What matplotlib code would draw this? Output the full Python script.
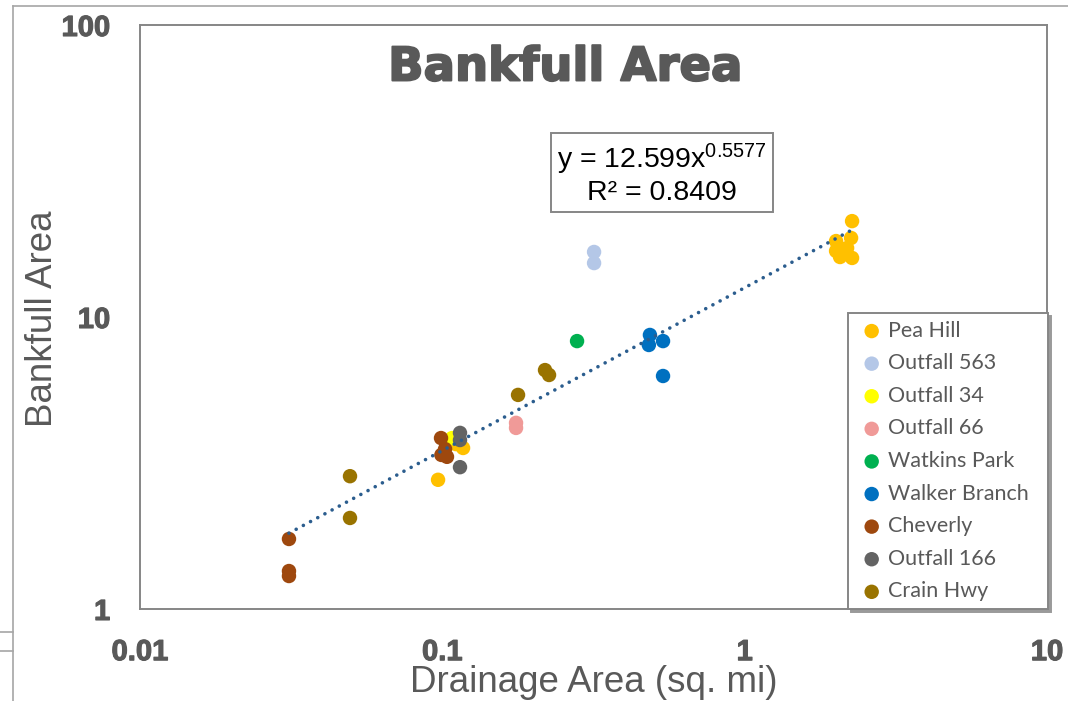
import matplotlib
matplotlib.use("Agg")
import matplotlib.pyplot as plt
import matplotlib.patheffects as pe
from matplotlib.lines import Line2D
from matplotlib.ticker import NullLocator
import numpy as np

# drainage area (sq. mi) and bankfull area per site
pea_hill_x = [2.266, 2.249, 2.006, 2.006, 2.182, 2.068, 2.266, 0.1171, 0.1110, 0.0968]
pea_hill_y = [21.3, 18.65, 18.2, 16.83, 17.23, 16.05, 15.93, 3.56, 3.67, 2.77]
outfall563_x = [0.3176, 0.3176]
outfall563_y = [16.7, 15.3]
outfall34_x = [0.1077]
outfall34_y = [3.85]
outfall66_x = [0.1753, 0.1753]
outfall66_y = [4.34, 4.17]
watkins_x = [0.279]
watkins_y = [8.27]
walker_x = [0.486, 0.482, 0.537, 0.537]
walker_y = [8.68, 8.02, 8.27, 6.28]
cheverly_x = [0.0311, 0.0311, 0.0311, 0.099, 0.1021, 0.1036, 0.0993]
cheverly_y = [1.737, 1.349, 1.297, 3.85, 3.53, 3.32, 3.37]
outfall166_x = [0.1144, 0.1144, 0.1144]
outfall166_y = [4.01, 3.79, 3.06]
crain_x = [0.2186, 0.2254, 0.178, 0.0495, 0.0495]
crain_y = [6.58, 6.33, 5.41, 2.85, 2.05]

sites = [
    ("Pea Hill", pea_hill_x, pea_hill_y, "#FFC000"),
    ("Outfall 563", outfall563_x, outfall563_y, "#B4C7E7"),
    ("Outfall 34", outfall34_x, outfall34_y, "#FFFF00"),
    ("Outfall 66", outfall66_x, outfall66_y, "#F09A98"),
    ("Watkins Park", watkins_x, watkins_y, "#00B050"),
    ("Walker Branch", walker_x, walker_y, "#0070C0"),
    ("Cheverly", cheverly_x, cheverly_y, "#9E480E"),
    ("Outfall 166", outfall166_x, outfall166_y, "#636363"),
    ("Crain Hwy", crain_x, crain_y, "#997300"),
]

# power-law trendline
coef, expo, r2 = 12.599, 0.5577, 0.8409

x_ticks = [0.01, 0.1, 1, 10]
x_tick_labels = ["0.01", "0.1", "1", "10"]
y_ticks = [1, 10, 100]
y_tick_labels = ["1", "10", "100"]

GRAY = "#595959"
EDGE = "#868686"

plt.rcParams["mathtext.fontset"] = "custom"
plt.rcParams["mathtext.rm"] = "Liberation Sans"
plt.rcParams["mathtext.it"] = "Liberation Sans:italic"

fig = plt.figure(figsize=(10.68, 7.01), dpi=100)
ax = fig.add_axes([140 / 1068, 1 - 609 / 701, 907 / 1068, 584 / 701])
ax.set_xscale("log")
ax.set_yscale("log")
ax.set_xlim(0.01, 10)
ax.set_ylim(1, 100)

for name, xs, ys, col in sites:
    ax.scatter(xs, ys, s=108, color=col, edgecolors="none", label=name, zorder=3)

all_x = np.concatenate([np.asarray(s[1]) for s in sites])
fx = np.geomspace(all_x.min(), all_x.max(), 200)
ax.plot(fx, coef * fx ** expo, color="#2B5D8E", lw=2.6,
        linestyle=(0, (0.01, 2.25)), dash_capstyle="round", zorder=4)

ax.set_xticks(x_ticks, x_tick_labels)
ax.set_yticks(y_ticks, y_tick_labels)
ax.xaxis.set_minor_locator(NullLocator())
ax.yaxis.set_minor_locator(NullLocator())
ax.tick_params(length=0, labelsize=21, labelcolor=GRAY)
ax.tick_params(axis="x", pad=21)
ax.tick_params(axis="y", pad=21.5)
for lab in ax.get_xticklabels() + ax.get_yticklabels():
    lab.set_fontfamily("Liberation Sans")
    lab.set_fontweight("bold")
    lab.set_path_effects([pe.withStroke(linewidth=0.8, foreground=GRAY)])
for sp in ax.spines.values():
    sp.set_color(EDGE)
    sp.set_linewidth(1.4)

ax.set_xlabel("Drainage Area (sq. mi)", fontsize=26.5, color=GRAY,
              family="Liberation Sans", va="center")
ax.xaxis.set_label_coords(0.5, (609 - 683) / 584)
ax.set_ylabel("Bankfull Area", fontsize=26.5, color=GRAY,
              family="Liberation Sans", va="center")
ax.yaxis.set_label_coords((43 - 140) / 907, (609 - 319) / 584)

ax.text((565 - 140) / 907, (609 - 68) / 584, "Bankfull Area", transform=ax.transAxes,
        ha="center", va="center", fontsize=33.5, fontweight="bold",
        family="DejaVu Sans", color=GRAY,
        path_effects=[pe.withStroke(linewidth=1.4, foreground=GRAY)])

eq = f"y = {coef}x$^{{\\mathrm{{{expo}}}}}$\nR² = {r2}"
ax.text((662 - 140) / 907, (609 - 174) / 584, eq, transform=ax.transAxes,
        ha="center", va="center", multialignment="center", fontsize=20.5,
        family="Liberation Sans", color="black", linespacing=1.12, zorder=5,
        bbox=dict(boxstyle="square,pad=0.22", fc="white", ec=EDGE, lw=1.4))

leg = ax.legend(loc="lower left", mode="expand", borderaxespad=0,
                bbox_to_anchor=((848 - 140) / 907, 0, 200 / 907, 0.5),
                frameon=True, fancybox=False,
                shadow={"color": "#9A9A9A", "alpha": 1}, handlelength=1.5,
                handletextpad=0.0, borderpad=0.35, labelspacing=0.585,
                prop={"family": "Lato", "size": 15.5})
leg.get_frame().set_edgecolor(EDGE)
leg.get_frame().set_linewidth(1.4)
for t in leg.get_texts():
    t.set_color(GRAY)
leg.set_zorder(6)

# chart-area border fragments
line_kw = dict(color="#A6A6A6", lw=1.2)
fig.add_artist(Line2D([13 / 1068, 1], [1 - 6 / 701, 1 - 6 / 701], **line_kw))
fig.add_artist(Line2D([13 / 1068, 13 / 1068], [0, 1 - 6 / 701], **line_kw))
fig.add_artist(Line2D([0, 13 / 1068], [1 - 632 / 701, 1 - 632 / 701], **line_kw))
fig.add_artist(Line2D([0, 13 / 1068], [1 - 651 / 701, 1 - 651 / 701], **line_kw))

fig.savefig("out.png", dpi=100)
